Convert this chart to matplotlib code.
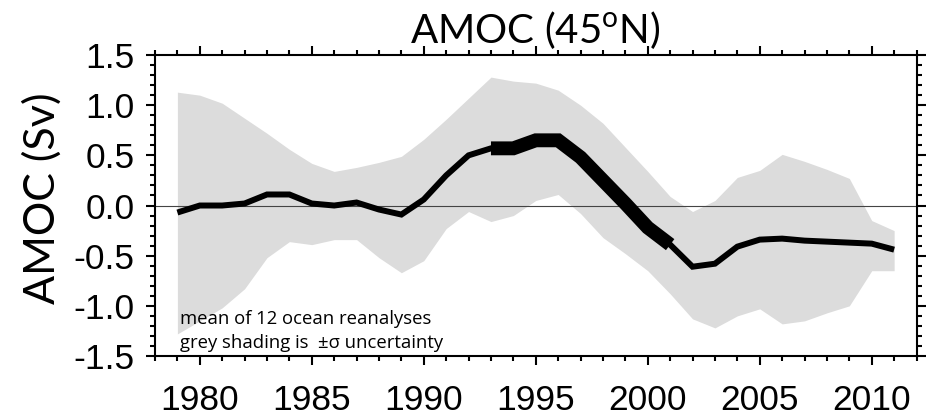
import numpy as np
import matplotlib
matplotlib.use("Agg")
import matplotlib.pyplot as plt
from matplotlib.ticker import MultipleLocator

years = list(range(1979, 2012))
amoc_mean = [-0.07, 0.00, 0.00, 0.02, 0.11, 0.11, 0.02, 0.00, 0.03, -0.04,
             -0.09, 0.06, 0.30, 0.50, 0.57, 0.57, 0.65, 0.65, 0.48, 0.25,
             0.02, -0.22, -0.39, -0.61, -0.58, -0.41, -0.34, -0.33, -0.35, -0.36,
             -0.37, -0.38, -0.44]
upper = [1.13, 1.10, 1.02, 0.87, 0.72, 0.56, 0.42, 0.34, 0.38, 0.43,
         0.49, 0.66, 0.86, 1.07, 1.28, 1.24, 1.22, 1.15, 1.00, 0.82,
         0.58, 0.34, 0.09, -0.06, 0.05, 0.28, 0.35, 0.51, 0.44, 0.36,
         0.27, -0.15, -0.25]
lower = [-1.28, -1.15, -1.02, -0.83, -0.52, -0.36, -0.39, -0.34, -0.34, -0.52,
         -0.67, -0.55, -0.23, -0.06, -0.16, -0.10, 0.05, 0.11, -0.08, -0.32,
         -0.48, -0.65, -0.88, -1.13, -1.22, -1.10, -1.03, -1.18, -1.15, -1.07,
         -1.00, -0.65, -0.65]
sig_start, sig_end = 1993, 2001
x_ticks = [1980, 1985, 1990, 1995, 2000, 2005, 2010]
y_ticks = [1.5, 1.0, 0.5, 0.0, -0.5, -1.0, -1.5]
note_lines = ["mean of 12 ocean reanalyses", "grey shading is  \u00b1\u03c3 uncertainty"]

dpi = 100
fig = plt.figure(figsize=(9.32, 4.17), dpi=dpi)
ax = fig.add_axes([0.1663, 0.1463, 0.8171, 0.7217])

yrs = np.array(years)
ax.fill_between(yrs, lower, upper, color="#dcdcdc", linewidth=0, zorder=1)
ax.axhline(0, color="#444444", linewidth=0.8, zorder=2)
ax.plot(yrs, amoc_mean, color="black", linewidth=4.3, solid_joinstyle="miter",
        solid_capstyle="butt", zorder=3)
m = (yrs >= sig_start) & (yrs <= sig_end)
ax.plot(yrs[m], np.array(amoc_mean)[m], color="black", linewidth=10,
        solid_joinstyle="miter", solid_capstyle="butt", zorder=4)

ax.set_xlim(1978, 2012)
ax.set_ylim(-1.5, 1.5)
ax.set_xticks(x_ticks)
ax.set_xticklabels([str(t) for t in x_ticks])
ax.set_yticks(y_ticks)
ax.set_yticklabels([f"{t:.1f}" for t in y_ticks])
ax.xaxis.set_minor_locator(MultipleLocator(1))
ax.yaxis.set_minor_locator(MultipleLocator(0.1))

for s in ax.spines.values():
    s.set_linewidth(1.5)
ax.tick_params(which="both", direction="out", top=True, right=True,
               width=1.5, colors="black")
ax.tick_params(which="major", length=6.5)
ax.tick_params(which="minor", length=3.5)
ax.tick_params(axis="x", which="major", labelsize=25.5, pad=14)
ax.tick_params(axis="y", which="major", labelsize=25.5, pad=8)
for lab in ax.get_xticklabels() + ax.get_yticklabels():
    lab.set_family("Liberation Sans")

ax.set_ylabel("AMOC (Sv)", fontsize=31, family="Lato")
ax.yaxis.set_label_coords(-0.122, 0.525)
ax.set_title("AMOC (45$^{\\mathregular{o}}$N)", fontsize=29, family="Lato", pad=9)

ax.text(1979.1, -1.18, note_lines[0], fontsize=13.3, family="Open Sans",
        va="baseline", ha="left", zorder=5)
ax.text(1979.1, -1.42, note_lines[1], fontsize=13.3, family="Open Sans",
        va="baseline", ha="left", zorder=5)

fig.savefig("out.png", dpi=dpi)
